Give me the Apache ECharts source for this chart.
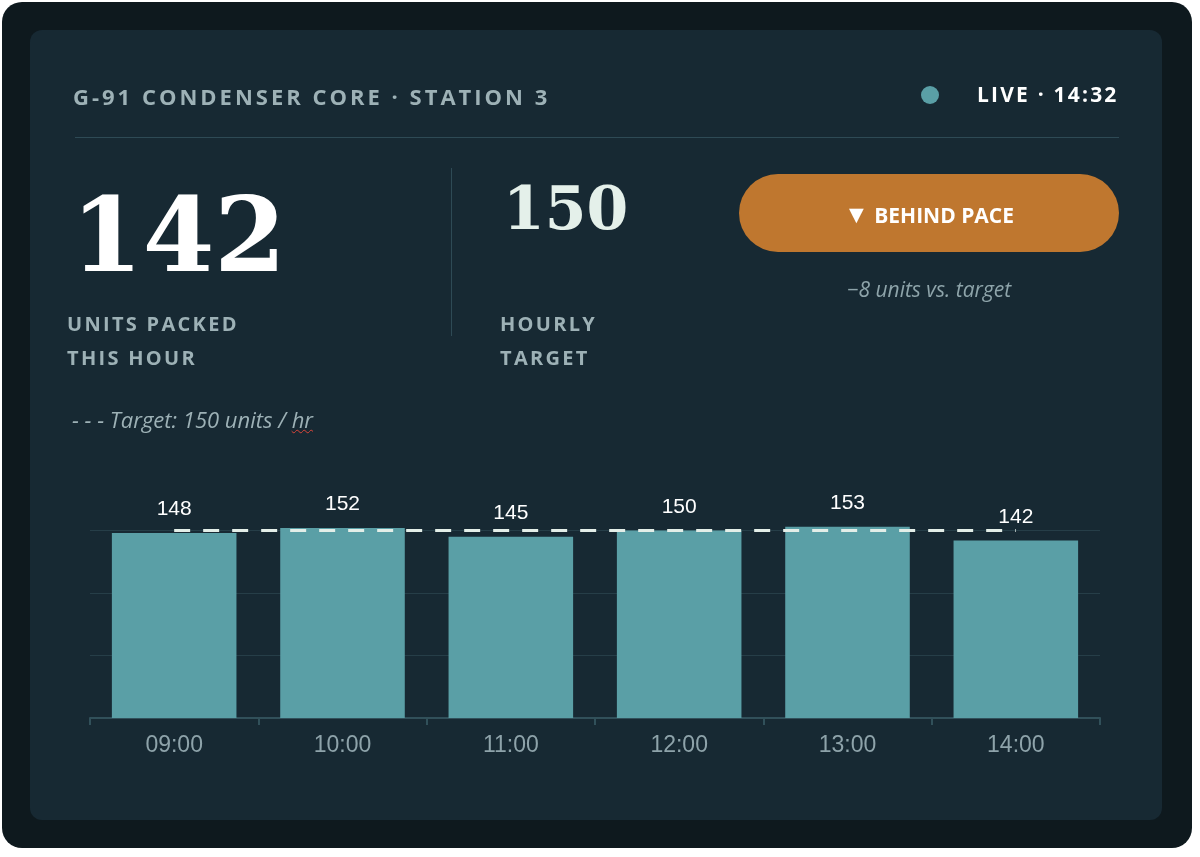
<!DOCTYPE html>
<html>
<head>
<meta charset="utf-8">
<script src="https://cdn.jsdelivr.net/npm/echarts@6/dist/echarts.min.js"></script>
<style>
  html, body { margin: 0; padding: 0; background: #ffffff; }
  #page { position: relative; width: 1200px; height: 857px; overflow: hidden; }
  #frame { position: absolute; left: 2px; top: 2px; width: 1190px; height: 846px; background: #0e191e; border-radius: 20px; }
  #card { position: absolute; left: 30px; top: 30px; width: 1132px; height: 790px; background: #172933; border-radius: 12px; }
  #chart { position: absolute; left: 0; top: 0; width: 1200px; height: 857px; }
  .t { position: absolute; font-family: "Open Sans", "Noto Sans", sans-serif; white-space: nowrap; }
  .cap { font-weight: 700; font-size: 20px; letter-spacing: 2.3px; color: #9db1b6; }
  .serif { font-family: "DejaVu Serif", "Liberation Serif", serif; font-weight: 700; }
  .it { font-style: italic; color: #8ea4aa; font-size: 21px; }
</style>
</head>
<body>
<div id="page">
  <div id="frame"></div>
  <div id="card"></div>
  <div id="chart"></div>

  <div class="t cap" style="left:73px; top:81px; font-size:22px; letter-spacing:3px;">G-91 CONDENSER CORE · STATION 3</div>
  <div style="position:absolute; left:921px; top:86px; width:18px; height:18px; border-radius:9px; background:#5a9fa6;"></div>
  <div class="t cap" style="left:977px; top:80px; color:#ffffff; font-size:21px; letter-spacing:2.2px;">LIVE · 14:32</div>
  <div style="position:absolute; left:75px; top:137px; width:1044px; height:1px; background:#2e4a55;"></div>
  <div style="position:absolute; left:451px; top:168px; width:1px; height:168px; background:#2e4a55;"></div>

  <div class="t serif" style="left:71px; top:170px; font-size:103px; line-height:130px; color:#ffffff;">142</div>
  <div class="t cap" style="left:67px; top:307px; line-height:34px;">UNITS PACKED<br>THIS HOUR</div>

  <div class="t serif" style="left:503px; top:170px; font-size:60px; line-height:76px; color:#e4f0ea;">150</div>
  <div class="t cap" style="left:500px; top:307px; line-height:34px;">HOURLY<br>TARGET</div>

  <div style="position:absolute; left:739px; top:174px; width:380px; height:78px; border-radius:39px; background:#bf772f;"></div>
  <div class="t" style="left:739px; top:174px; width:380px; line-height:78px; text-align:center; color:#ffffff; font-weight:700; font-size:21px;"><span style="font-size:25px;">▼</span> BEHIND PACE</div>
  <div class="t it" style="left:739px; top:275px; width:380px; text-align:center;">−8 units vs. target</div>

  <div class="t it" style="left:72px; top:404px; color:#9db1b6; font-size:22px;">- - - Target: 150 units / <span style="text-decoration: underline wavy #d9453a; text-decoration-thickness:1px;">hr</span></div>
</div>
<script>
// hourly output, station 3
var hours = ['09:00', '10:00', '11:00', '12:00', '13:00', '14:00'];
var unitsPacked = [148, 152, 145, 150, 153, 142];
var targetUnits = 150;

var chart = echarts.init(document.getElementById('chart'), null, { renderer: 'canvas' });

var option = {
    backgroundColor: 'transparent',
    animation: false,
    grid: {
        left: 90,
        right: 100,
        top: 518,
        bottom: 139,
        containLabel: false
    },
    xAxis: {
        type: 'category',
        data: hours,
        axisLine: { lineStyle: { color: '#31505a', width: 2 } },
        axisTick: { show: true, length: 7, lineStyle: { color: '#31505a', width: 2 } },
        axisLabel: {
            color: '#8ea3aa',
            fontSize: 23,
            fontFamily: 'Liberation Sans, Arial, sans-serif',
            margin: 16
        }
    },
    yAxis: {
        type: 'value',
        min: 0,
        max: 160,
        interval: 50,
        axisLine: { show: false },
        axisTick: { show: false },
        axisLabel: { show: false },
        splitLine: {
            lineStyle: {
                // hide the extra line at max
                color: ['#263e48', '#263e48', '#263e48', '#263e48', 'transparent'],
                width: 1
            }
        }
    },
    series: [{
        name: 'Units',
        type: 'bar',
        data: unitsPacked,
        barCategoryGap: '26%',
        itemStyle: { color: '#5a9fa6' },
        label: {
            show: true,
            position: 'top',
            distance: 13,
            color: '#ffffff',
            fontSize: 21,
            fontFamily: 'Liberation Sans, Arial, sans-serif'
        },
        markLine: {
            silent: true,
            symbol: ['none', 'none'],
            label: { show: false },
            lineStyle: { color: '#e3eee8', width: 3, type: [16, 13], opacity: 1 },
            data: [[
                { coord: [hours[0], targetUnits] },
                { coord: [hours[hours.length - 1], targetUnits] }
            ]]
        }
    }]
};

chart.setOption(option);
</script>
</body>
</html>
